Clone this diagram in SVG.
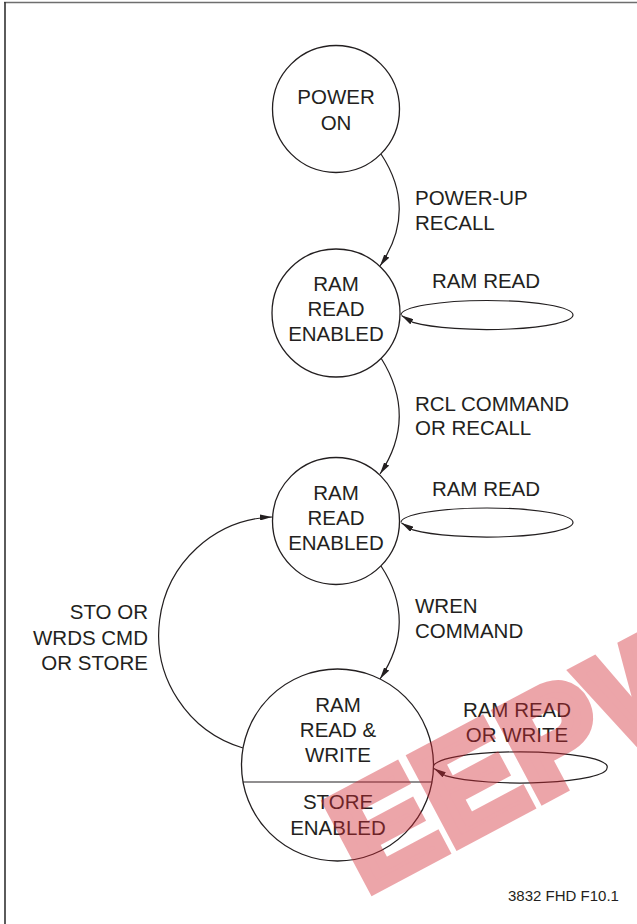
<svg xmlns="http://www.w3.org/2000/svg" width="637" height="924" viewBox="0 0 637 924">
<style>
  .node { fill: #ffffff; stroke: #231f20; stroke-width: 1.3; }
  .lbl { font-family: "Liberation Sans", Arial, sans-serif; font-size: 20.5px; fill: #231f20; }
  .mid { text-anchor: middle; }
  .end { text-anchor: end; }
  .edge { fill: none; stroke: #231f20; stroke-width: 1.2; }
  .frame { fill: none; stroke-width: 1.6; }
</style>
<defs>
  <marker id="arrow" viewBox="0 0 12 6" refX="12" refY="3" markerWidth="12" markerHeight="6" markerUnits="userSpaceOnUse" orient="auto">
    <path d="M0,0 L12,3 L0,6 z" fill="#231f20"/>
  </marker>
</defs>
<rect width="637" height="924" fill="#ffffff"/>
<g id="frame">
  <line class="frame" x1="4" y1="2.5" x2="637" y2="2.5" stroke="#6e6e6e"/>
  <line class="frame" x1="5" y1="2" x2="5" y2="924" stroke="#333333"/>
</g>
<g id="connectors">
  <path class="edge" d="M381,154 Q418,210 380,266" marker-end="url(#arrow)"/>
  <path class="edge" d="M381,358 Q418,417 380,474" marker-end="url(#arrow)"/>
  <path class="edge" d="M381,566 Q418,622 380,679" marker-end="url(#arrow)"/>
  <path class="edge" d="M243,748 A118,118 0 0 1 272,517" marker-end="url(#arrow)"/>
  <path class="edge" d="M401,315 A86,14.5 0 1 1 573,315 A86,14.5 0 0 1 413,322.4 L401.5,315.6" marker-end="url(#arrow)"/>
  <path class="edge" d="M401,522.5 A86,14.5 0 1 1 573,522.5 A86,14.5 0 0 1 413,529.9 L401.5,523.1" marker-end="url(#arrow)"/>
  <path class="edge" d="M433.5,768 A87,15 0 1 1 607,768 A87,15 0 0 1 446,775.9 L434,768.6" marker-end="url(#arrow)"/>
  <text class="lbl" x="415" y="205">POWER-UP</text>
  <text class="lbl" x="415" y="230">RECALL</text>
  <text class="lbl mid" x="486" y="288">RAM READ</text>
  <text class="lbl" x="415" y="411">RCL COMMAND</text>
  <text class="lbl" x="415" y="435">OR RECALL</text>
  <text class="lbl mid" x="486" y="496">RAM READ</text>
  <text class="lbl" x="415" y="613">WREN</text>
  <text class="lbl" x="415" y="638">COMMAND</text>
  <text class="lbl mid" x="517" y="717">RAM READ</text>
  <text class="lbl mid" x="517" y="742">OR WRITE</text>
  <text class="lbl end" x="148" y="619">STO OR</text>
  <text class="lbl end" x="148" y="644.5">WRDS CMD</text>
  <text class="lbl end" x="148" y="670">OR STORE</text>
</g>
<g id="power-on">
  <circle class="node" cx="336" cy="109" r="63.5"/>
  <text class="lbl mid" x="336" y="104">POWER</text>
  <text class="lbl mid" x="336" y="130">ON</text>
</g>
<g id="ram-read-enabled-1">
  <circle class="node" cx="336" cy="313" r="64"/>
  <text class="lbl mid" x="336" y="291">RAM</text>
  <text class="lbl mid" x="336" y="316">READ</text>
  <text class="lbl mid" x="336" y="341">ENABLED</text>
</g>
<g id="ram-read-enabled-2">
  <circle class="node" cx="336" cy="521" r="63.5"/>
  <text class="lbl mid" x="336" y="500">RAM</text>
  <text class="lbl mid" x="336" y="525">READ</text>
  <text class="lbl mid" x="336" y="550">ENABLED</text>
</g>
<g id="ram-read-write-store">
  <circle class="node" cx="337.5" cy="765" r="96"/>
  <line class="edge" x1="243" y1="782" x2="432" y2="782"/>
  <text class="lbl mid" x="338" y="712">RAM</text>
  <text class="lbl mid" x="338" y="737">READ &amp;</text>
  <text class="lbl mid" x="338" y="762">WRITE</text>
  <text class="lbl mid" x="338" y="809">STORE</text>
  <text class="lbl mid" x="338" y="835">ENABLED</text>
</g>
<g id="footer">
  <text x="508" y="901" font-family="Liberation Sans, Arial, sans-serif" font-size="15" fill="#231f20">3832 FHD F10.1</text>
</g>
<g id="watermark" opacity="0.42">
  <text transform="translate(372,896) rotate(-28)" x="-4" y="-6" font-family="Liberation Sans, Arial, sans-serif" font-weight="bold" font-size="140" letter-spacing="3" fill="#d42a35" stroke="#d42a35" stroke-width="12" stroke-linejoin="miter">EEPW</text>
</g>
</svg>
